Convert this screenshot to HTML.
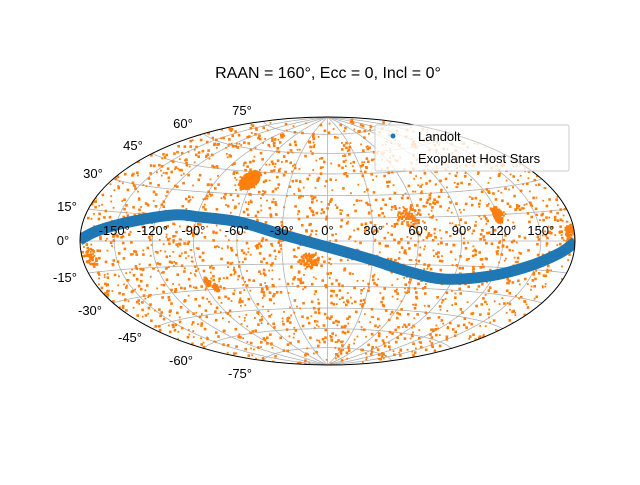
<!DOCTYPE html>
<html><head><meta charset="utf-8"><style>
body{margin:0;background:#fff;}
svg text{font-family:"Liberation Sans","DejaVu Sans",sans-serif;fill:#000;}
</style></head><body>
<svg id="chart" width="640" height="480" viewBox="0 0 640 480">
<text x="328" y="78" text-anchor="middle" font-size="16">RAAN = 160°, Ecc = 0, Incl = 0°</text>
<defs><clipPath id="clip"><ellipse cx="327.5" cy="241" rx="247.5" ry="124"/></clipPath></defs>
<g id="grid"></g>
<g id="stars" clip-path="url(#clip)"></g>
<g id="landolt" clip-path="url(#clip)"></g>
<ellipse cx="327.5" cy="241" rx="247.5" ry="124" fill="none" stroke="#000" stroke-width="1"/>
<g id="labels" font-size="13"></g>
<g>
<rect x="375" y="125" width="194" height="46" rx="2" fill="#fff" fill-opacity="0.8" stroke="#ccc"/>
<circle cx="393" cy="136" r="2.5" fill="#1f77b4"/>
<text x="418" y="141" font-size="13">Landolt</text>
<text x="418" y="163" font-size="13">Exoplanet Host Stars</text>
</g>
</svg>
<script>
const lonTicks=[-150,-120,-90,-60,-30,0,30,60,90,120,150];
const latTicks=[-75,-60,-45,-30,-15,0,15,30,45,60,75];
const latLabelPos=[[240,373],[181,360],[130,337],[90,310],[65,277],[63,240],[67,206],[93,173],[133,145],[183,123],[242,110]];
const landoltLon=[-180,-165,-140,-107,-88,-59,-31,0,28,57,84,117,145,167,180];
const landoltLat=[0.5,5,10.2,15.3,14.6,12.0,4.5,-3.9,-11.7,-19.8,-23.5,-20.2,-13.2,-5.9,-0.5];
const clusterLon=[-63,-12,-87,-83,55,120,176,-172];
const clusterLat=[39.3,-13,-25,-29,15,15,3,-8];
const clusterCount=[450,70,45,45,60,90,70,40];
const clusterSpread=[6,5,2.5,2.5,6,5,5,5];
const clusterStretchLon=[1.2,1.3,0.8,0.8,1.3,0.7,1,1];
const CX=327.5,CY=241,S=87.6,NS="http://www.w3.org/2000/svg";
function proj(lon,lat){const l=lon*Math.PI/180,p=lat*Math.PI/180;const d=Math.sqrt(1+Math.cos(p)*Math.cos(l/2));return [CX+S*2*Math.SQRT2*Math.cos(p)*Math.sin(l/2)/d,CY-S*Math.SQRT2*Math.sin(p)/d];}
function mk(t,a,parent){const e=document.createElementNS(NS,t);for(const k in a)e.setAttribute(k,a[k]);parent.appendChild(e);return e;}
const grid=document.getElementById('grid');
lonTicks.forEach(lo=>{let pts=[];for(let la=-90;la<=90;la+=2)pts.push(proj(lo,la).join(','));
const e=mk('polyline',{points:pts.join(' '),fill:'none',stroke:'#b0b0b0','stroke-width':0.8},grid);

});
latTicks.forEach(la=>{let pts=[];for(let lo=-180;lo<=180;lo+=3)pts.push(proj(lo,la).join(','));
const e=mk('polyline',{points:pts.join(' '),fill:'none',stroke:'#b0b0b0','stroke-width':0.8},grid);

});
const st=document.getElementById('stars');
let seed=12345;function rnd(){seed=(seed*1103515245+12345)%2147483648;return seed/2147483648;}
function dot(lo,la){const [x,y]=proj(lo,la);const s=rnd()<0.6?2.6:1.8;
const e=mk('rect',{x:(x-s/2).toFixed(1),y:(y-s/2).toFixed(1),width:s,height:s,fill:'#ff7f0e'},st);

}
for(let i=0;i<2300;i++){const lo=-180+360*rnd();const la=Math.asin(2*rnd()-1)*180/Math.PI;dot(lo,la);}
clusterLon.forEach((c,i)=>{for(let k=0;k<clusterCount[i];k++){const r=clusterSpread[i]*Math.sqrt(rnd()),a=2*Math.PI*rnd();dot(Math.max(-180,Math.min(180,c+r*Math.cos(a)*clusterStretchLon[i])),clusterLat[i]+r*Math.sin(a));}});
const lg=document.getElementById('landolt');
const P=landoltLon.map((lo,i)=>proj(lo,landoltLat[i]));
let d='M'+P[0][0].toFixed(1)+','+P[0][1].toFixed(1);
for(let i=0;i<P.length-1;i++){const p0=P[Math.max(0,i-1)],p1=P[i],p2=P[i+1],p3=P[Math.min(P.length-1,i+2)];
const c1=[p1[0]+(p2[0]-p0[0])/6,p1[1]+(p2[1]-p0[1])/6],c2=[p2[0]-(p3[0]-p1[0])/6,p2[1]-(p3[1]-p1[1])/6];
d+=' C'+c1.map(v=>v.toFixed(1)).join(',')+' '+c2.map(v=>v.toFixed(1)).join(',')+' '+p2.map(v=>v.toFixed(1)).join(',');}
const band=mk('path',{d:d,fill:'none',stroke:'#1f77b4','stroke-width':11,'stroke-linejoin':'round'},lg);


const lb=document.getElementById('labels');
lonTicks.forEach(lo=>{const [x]=proj(lo,0);const t=mk('text',{x:x.toFixed(1),y:235,'text-anchor':'middle'},lb);t.textContent=lo+'°';

});
latTicks.forEach((la,i)=>{const p=latLabelPos[i];const t=mk('text',{x:p[0],y:p[1]+5,'text-anchor':'middle'},lb);t.textContent=la+'°';

});
</script>
</body></html>
